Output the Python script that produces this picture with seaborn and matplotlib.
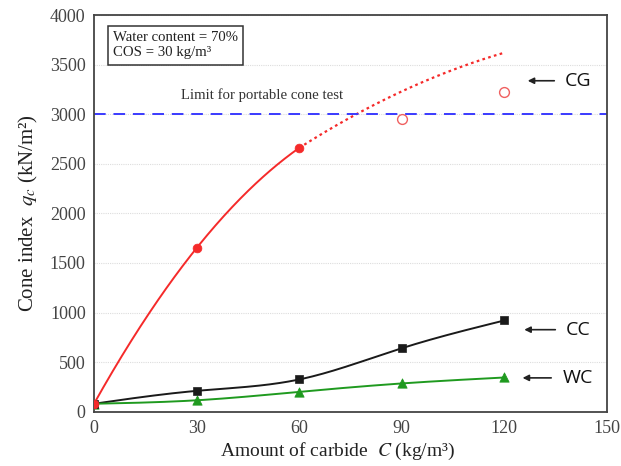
import matplotlib
matplotlib.use('Agg')
import numpy as np
import pandas as pd
import matplotlib.pyplot as plt
import seaborn as sns
from matplotlib.ticker import MultipleLocator

# Datos
carburo = [0, 30, 60, 90, 120]
cg_medido = [80, 1650, 2660]            # 0, 30, 60
cg_tendencia_x = [60, 90, 120]
cg_tendencia = [2660, 3230, 3620]       # extrapolación punteada
cg_abiertos_x = [90, 120]
cg_abiertos = [2950, 3220]
cc_valores = [80, 210, 325, 640, 920]
wc_valores = [80, 115, 200, 285, 345]

limite_cono = 3000


def spline_natural(x, y, n=200):
    # spline cúbico natural para suavizar la línea entre puntos
    x = np.asarray(x, float)
    y = np.asarray(y, float)
    m = len(x)
    h = np.diff(x)
    A = np.zeros((m, m))
    b = np.zeros(m)
    A[0, 0] = A[-1, -1] = 1
    for i in range(1, m - 1):
        A[i, i - 1] = h[i - 1]
        A[i, i] = 2 * (h[i - 1] + h[i])
        A[i, i + 1] = h[i]
        b[i] = 6 * ((y[i + 1] - y[i]) / h[i] - (y[i] - y[i - 1]) / h[i - 1])
    M = np.linalg.solve(A, b)
    xs = np.linspace(x[0], x[-1], n)
    ys = np.empty_like(xs)
    for k, xv in enumerate(xs):
        i = min(np.searchsorted(x, xv, side='right') - 1, m - 2)
        t0, t1 = x[i + 1] - xv, xv - x[i]
        ys[k] = (M[i] * t0**3 + M[i + 1] * t1**3) / (6 * h[i]) \
            + (y[i] / h[i] - M[i] * h[i] / 6) * t0 \
            + (y[i + 1] / h[i] - M[i + 1] * h[i] / 6) * t1
    return xs, ys


def cuadratica(x, y, n=200):
    c = np.polyfit(x, y, 2)
    xs = np.linspace(x[0], x[-1], n)
    return xs, np.polyval(c, xs)


sns.set_theme(style="white")
plt.rcParams['font.family'] = ['Liberation Serif', 'DejaVu Serif']
plt.rcParams['mathtext.fontset'] = 'stix'

fig = plt.figure(figsize=(6.21, 4.66), dpi=100)
ax = fig.add_axes([94 / 621, 1 - 411.7 / 466, 513 / 621, 396.7 / 466])

rojo = '#f52a2a'
negro = '#1a1a1a'
verde = '#1f9a1f'

# líneas suavizadas
xs, ys = cuadratica(carburo[:3], cg_medido)
sns.lineplot(x=xs, y=ys, ax=ax, color=rojo, lw=1.4)
xs, ys = cuadratica(cg_tendencia_x, cg_tendencia)
sns.lineplot(x=xs, y=ys, ax=ax, color=rojo, lw=1.6, linestyle=(0, (1.2, 1.5)))
xs, ys = spline_natural(carburo, cc_valores)
sns.lineplot(x=xs, y=ys, ax=ax, color=negro, lw=1.4)
xs, ys = spline_natural(carburo, wc_valores)
sns.lineplot(x=xs, y=ys, ax=ax, color=verde, lw=1.4)

# marcadores
sns.scatterplot(x=carburo, y=wc_valores, ax=ax, marker='^', color=verde, s=45, edgecolor=verde, zorder=3)
sns.scatterplot(x=carburo, y=cc_valores, ax=ax, marker='s', color=negro, s=36, edgecolor=negro, zorder=3)
sns.scatterplot(x=carburo[:3], y=cg_medido, ax=ax, marker='o', color=rojo, s=40, edgecolor=rojo, zorder=4)
sns.scatterplot(x=cg_abiertos_x, y=cg_abiertos, ax=ax, marker='o', facecolor='white',
                edgecolor='#f06060', linewidth=1.0, s=50, zorder=4)

ax.axhline(limite_cono, color='#3a3aff', lw=1.4, ls=(0, (6, 4)), zorder=2)
ax.text(49, 3195, 'Limit for portable cone test', fontsize=10.6, color='#333333', ha='center', va='center')

ax.text(5.6, 3840, 'Water content = 70%\nCOS = 30 kg/m³', fontsize=10.6, color='#222222',
        va='top', ha='left', linespacing=1.25,
        bbox=dict(boxstyle='square,pad=0.35', fc='white', ec='#333333', lw=1.1))

# etiquetas con flechas
for etiqueta, xt, yt, xa, xb in [('CG', 141.5, 3337, 126, 135.4),
                                 ('CC', 141.5, 827, 125, 135.7),
                                 ('WC', 141.5, 341, 124.5, 134.5)]:
    ax.annotate('', xy=(xa, yt), xytext=(xb, yt),
                arrowprops=dict(arrowstyle='-|>', color='#222222', lw=1.2, mutation_scale=9))
    ax.text(xt, yt, etiqueta, fontsize=14, family=['Open Sans', 'DejaVu Sans'],
            ha='center', va='center', color='#111111')

ax.set_xlim(0, 150)
ax.set_ylim(0, 4000)
ax.xaxis.set_major_locator(MultipleLocator(30))
ax.xaxis.set_minor_locator(MultipleLocator(15))
ax.yaxis.set_major_locator(MultipleLocator(500))
ax.yaxis.set_minor_locator(MultipleLocator(250))
ax.tick_params(which='both', direction='in', color='#333333')
ax.tick_params(which='major', length=5, width=1.1, labelsize=13, labelcolor='#444444', pad=6)
ax.tick_params(which='minor', length=3, width=1.0)
ax.grid(axis='y', which='major', color='#dddddd', lw=0.8, ls=(0, (1, 1)))
ax.set_axisbelow(True)
for s in ax.spines.values():
    s.set_color('#444444')
    s.set_linewidth(1.3)

ax.set_xlabel('Amount of carbide  $C$ (kg/m³)', fontsize=14, color='#222222')
ax.xaxis.set_label_coords(0.475, -0.074, transform=ax.transAxes)
ax.xaxis.label.set_va('top')
ax.set_ylabel('Cone index  $q_c$ (kN/m²)', fontsize=15, color='#222222', labelpad=7)

fig.savefig('out.png', dpi=100)
